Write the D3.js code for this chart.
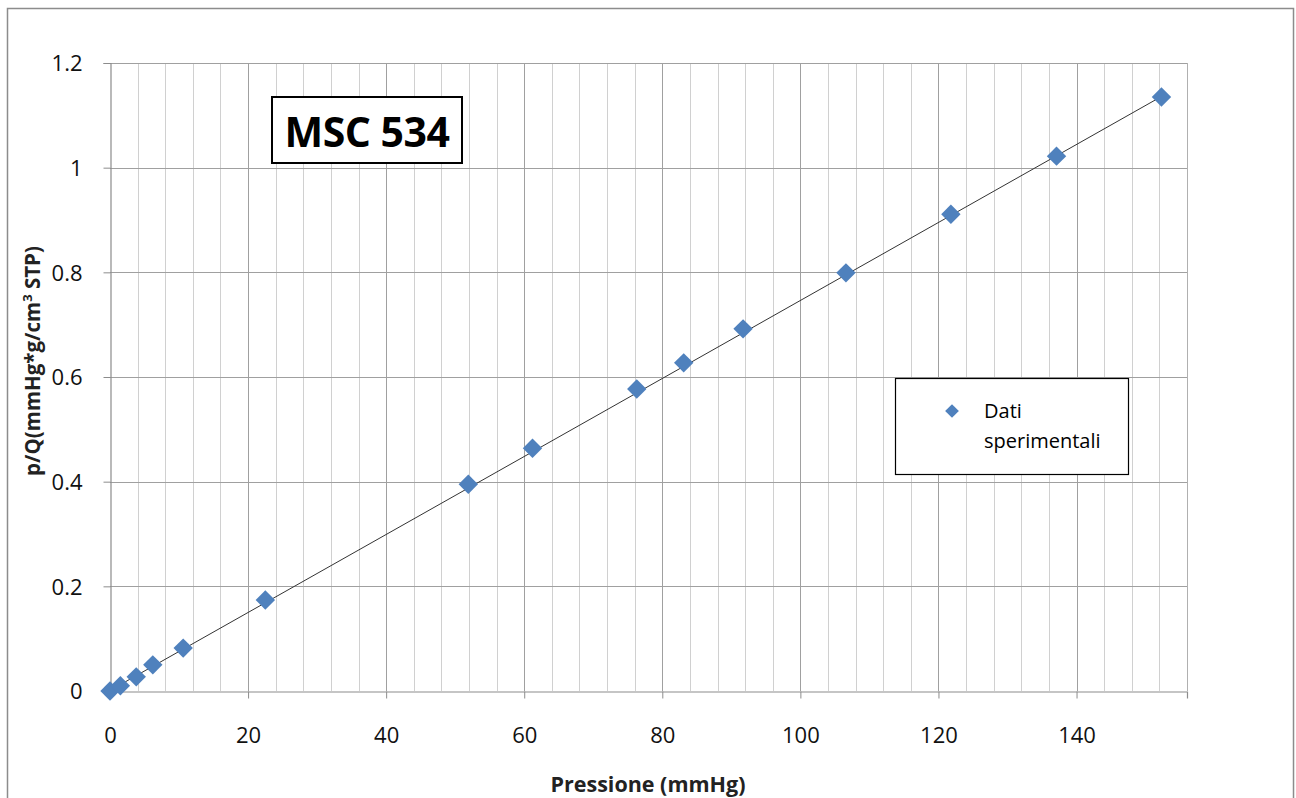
<!DOCTYPE html>
<html>
<head>
<meta charset="utf-8">
<script src="https://cdn.jsdelivr.net/npm/d3@7"></script>
<style>
html,body{margin:0;padding:0;background:#fff;}
svg{display:block;font-family:"Open Sans",Lato,sans-serif;}
</style>
</head>
<body>
<svg id="chart" width="1296" height="798"></svg>
<script>
// Data
const pressione = [0, 1.5, 3.8, 6.2, 10.6, 22.5, 51.9, 61.2, 76.3, 83.1, 91.7, 106.6, 121.8, 137.1, 152.3];
const pQ = [0, 0.010, 0.027, 0.050, 0.082, 0.174, 0.395, 0.464, 0.577, 0.627, 0.692, 0.799, 0.911, 1.022, 1.135];
const trendX = [0, 152.3];
const trendY = [0.001, 1.136];
const xTicks = [0, 20, 40, 60, 80, 100, 120, 140];
const yTicks = [0, 0.2, 0.4, 0.6, 0.8, 1, 1.2];
const title = "MSC 534";
const legendLabel = ["Dati", "sperimentali"];

const svg = d3.select("#chart");
const M = {left:110, top:63, right:1187, bottom:691};
const x = d3.scaleLinear().domain([0,156]).range([M.left, M.right]);
const y = d3.scaleLinear().domain([0,1.2]).range([M.bottom, M.top]);
const FONT = "'Open Sans',sans-serif";

// outer frame
svg.append("rect").attr("x",7.5).attr("y",8.5).attr("width",1286).attr("height",800)
  .attr("fill","#fff").attr("stroke","#8c8c8c").attr("stroke-width",1.5);

// minor vertical gridlines every 4
const minor = d3.range(4,157,4).filter(v=>v%20!==0);
svg.append("g").selectAll("line").data(minor).join("line")
  .attr("x1",d=>Math.round(x(d))+0.5).attr("x2",d=>Math.round(x(d))+0.5)
  .attr("y1",M.top).attr("y2",M.bottom).attr("stroke","#d0d0d0").attr("stroke-width",1);
// major vertical gridlines
svg.append("g").selectAll("line").data(xTicks.filter(d=>d>0)).join("line")
  .attr("x1",d=>Math.round(x(d))+0.5).attr("x2",d=>Math.round(x(d))+0.5)
  .attr("y1",M.top).attr("y2",M.bottom).attr("stroke","#a0a0a0").attr("stroke-width",1);
// right border of plot
svg.append("line").attr("x1",M.right+0.5).attr("x2",M.right+0.5).attr("y1",M.top).attr("y2",M.bottom)
  .attr("stroke","#b0b0b0");
// horizontal gridlines
svg.append("g").selectAll("line").data(yTicks.filter(d=>d>0)).join("line")
  .attr("x1",M.left).attr("x2",M.right)
  .attr("y1",d=>Math.round(y(d))+0.5).attr("y2",d=>Math.round(y(d))+0.5)
  .attr("stroke","#a0a0a0").attr("stroke-width",1);

// axes
const xAxis = d3.axisBottom(x).tickValues(xTicks).tickFormat(d3.format("d")).tickSize(7).tickPadding(33);
const gx = svg.append("g").attr("transform",`translate(0,${M.bottom+0.5})`).call(xAxis);
const yAxis = d3.axisLeft(y).tickValues(yTicks).tickFormat(d=>d===0?"0":d3.format("")(d)).tickSize(7).tickPadding(21);
const gy = svg.append("g").attr("transform",`translate(${M.left+0.5},0)`).call(yAxis);
[gx,gy].forEach(g=>{
  g.select(".domain").attr("stroke","#8c8c8c").attr("stroke-width",1.2);
  g.selectAll(".tick line").attr("stroke","#8c8c8c");
  g.selectAll(".tick text").attr("fill","#111").style("font-size","22px").style("font-family",FONT);
});
gy.selectAll(".tick text").attr("dy","0.36em");
gx.selectAll(".tick text").attr("dy","0.5em");

// trendline
svg.append("path").datum(trendX.map((v,i)=>[v,trendY[i]]))
  .attr("d",d3.line().x(d=>x(d[0])).y(d=>y(d[1])))
  .attr("fill","none").attr("stroke","#333").attr("stroke-width",1);

// points
const sym = d3.symbol().type(d3.symbolDiamond2).size(240);
svg.append("g").selectAll("path").data(pressione.map((v,i)=>[v,pQ[i]])).join("path")
  .attr("d",sym)
  .attr("transform",d=>`translate(${x(d[0])},${y(d[1])})`)
  .attr("fill","#4f81bd");

// title box
svg.append("rect").attr("x",272).attr("y",97).attr("width",190).attr("height",66)
  .attr("fill","#fff").attr("stroke","#000").attr("stroke-width",2);
svg.append("text").attr("x",367).attr("y",147).attr("text-anchor","middle")
  .style("font-family",FONT).style("font-weight","bold").style("font-size","41px")
  .style("letter-spacing","-0.5px").attr("fill","#000").text(title);

// legend
svg.append("rect").attr("x",895.5).attr("y",378.5).attr("width",233).attr("height",96)
  .attr("fill","#fff").attr("stroke","#000").attr("stroke-width",1.2);
svg.append("path").attr("d",d3.symbol().type(d3.symbolDiamond2).size(120))
  .attr("transform","translate(952,411)").attr("fill","#4f81bd");
legendLabel.forEach((t,i)=>{
  svg.append("text").attr("x",984).attr("y",418+i*30)
    .style("font-family",FONT).style("font-size","20px").attr("fill","#000").text(t);
});

// axis titles
svg.append("text").attr("x",648).attr("y",792).attr("text-anchor","middle")
  .style("font-family",FONT).style("font-weight","bold").style("font-size","21.5px")
  .attr("fill","#222").text("Pressione (mmHg)");
const yl = svg.append("text").attr("transform","translate(40,361) rotate(-90)").attr("text-anchor","middle")
  .style("font-family",FONT).style("font-weight","bold").style("font-size","20.5px")
  .attr("fill","#222");
yl.append("tspan").text("p/Q(mmHg*g/cm");
yl.append("tspan").attr("dy","-8").style("font-size","13px").text("3");
yl.append("tspan").attr("dy","8").text(" STP)");
</script>
</body>
</html>
